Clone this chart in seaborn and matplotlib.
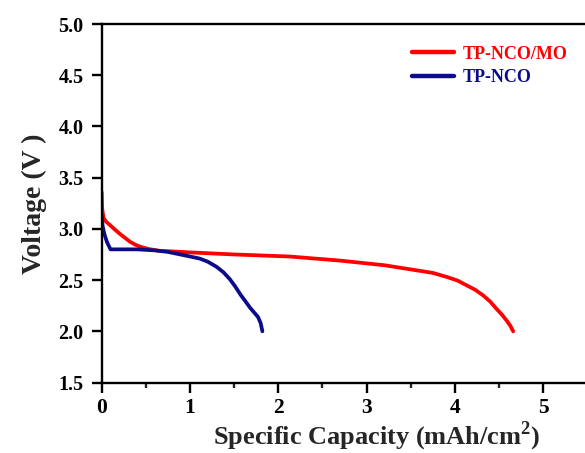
import matplotlib
matplotlib.use("Agg")
import matplotlib.pyplot as plt
import seaborn as sns
import pandas as pd
from matplotlib.ticker import MultipleLocator

sns.set_style("ticks")
plt.rcParams['font.family'] = ['Liberation Serif', 'DejaVu Serif']
plt.rcParams['font.weight'] = 'bold'
plt.rcParams['mathtext.fontset'] = 'custom'
plt.rcParams['mathtext.rm'] = 'Liberation Serif:bold'
plt.rcParams['mathtext.bf'] = 'Liberation Serif:bold'

# TP-NCO/MO discharge curve
cap_mo = [0.0, 0.005, 0.02, 0.05, 0.09, 0.14, 0.2, 0.26, 0.32, 0.38, 0.44, 0.5, 0.55, 0.66, 0.8, 1.0,
          1.5, 2.13, 2.7, 3.2, 3.53, 3.75, 3.91, 4.03, 4.13, 4.23, 4.32, 4.4, 4.47, 4.53, 4.59, 4.63, 4.66]
volt_mo = [3.36, 3.2, 3.11, 3.07, 3.04, 3.0, 2.955, 2.915, 2.875, 2.845, 2.825, 2.81, 2.80, 2.785, 2.78, 2.77,
           2.75, 2.73, 2.69, 2.645, 2.60, 2.57, 2.53, 2.495, 2.45, 2.405, 2.35, 2.29, 2.22, 2.165, 2.10, 2.05, 2.0]

# TP-NCO discharge curve
cap_nco = [0.0, 0.01, 0.03, 0.06, 0.1, 0.2, 0.4, 0.6, 0.75, 0.89, 1.0, 1.11, 1.2, 1.3, 1.38, 1.45,
           1.51, 1.57, 1.63, 1.68, 1.73, 1.77, 1.8, 1.82]
volt_nco = [3.13, 3.03, 2.95, 2.87, 2.80, 2.80, 2.80, 2.79, 2.775, 2.75, 2.73, 2.71, 2.68, 2.63, 2.575, 2.51,
            2.44, 2.36, 2.29, 2.23, 2.18, 2.14, 2.08, 2.0]

series_names = ["TP-NCO/MO", "TP-NCO"]
series_colors = ["#ff0000", "#0c0c8a"]
xticks = [0, 1, 2, 3, 4, 5]
yticks = [1.5, 2.0, 2.5, 3.0, 3.5, 4.0, 4.5, 5.0]

df = pd.concat([
    pd.DataFrame({"cap": cap_mo, "volt": volt_mo, "sample": series_names[0]}),
    pd.DataFrame({"cap": cap_nco, "volt": volt_nco, "sample": series_names[1]}),
])

fig = plt.figure(figsize=(5.85, 4.53), dpi=100)
ax = fig.add_axes([101.7 / 585, (453 - 382.5) / 453, 5.5 * 88.3 / 585, (382.5 - 24) / 453])

sns.lineplot(data=df, x="cap", y="volt", hue="sample", palette=dict(zip(series_names, series_colors)),
             sort=False, estimator=None, linewidth=2.7, ax=ax)
for ln in ax.get_lines():
    ln.set_linewidth(2.7)
    ln.set_solid_capstyle("round")
    ln.set_solid_joinstyle("round")

ax.set_xlim(0, 5.5)
ax.set_ylim(1.5, 5.0)
ax.set_xticks(xticks)
ax.set_xticklabels([str(t) for t in xticks])
ax.set_yticks(yticks)
ax.set_yticklabels([f"{t:.1f}" for t in yticks])
ax.xaxis.set_minor_locator(MultipleLocator(0.5))

for s in ax.spines.values():
    s.set_linewidth(1.7)
    s.set_color("black")
ax.tick_params(which="major", direction="out", length=7, width=1.7, colors="black")
ax.tick_params(which="minor", direction="out", length=3.5, width=1.7)
ax.tick_params(axis="x", which="major", labelsize=15.5, pad=4)
ax.tick_params(axis="y", which="major", labelsize=14.5, pad=6)
for lab in ax.get_xticklabels() + ax.get_yticklabels():
    lab.set_fontweight("bold")

ax.set_xlabel("Specific Capacity (mAh/cm$^{\\mathbf{2}}$)", fontsize=19, fontweight="bold", labelpad=1)
ax.xaxis.label.set_x(0.567)
ax.set_ylabel("Voltage (V )", fontsize=20, fontweight="bold", labelpad=8)

leg = ax.legend(frameon=False, loc="upper right", bbox_to_anchor=(0.985, 0.975), fontsize=13,
                handlelength=2.3, handletextpad=0.5, labelspacing=0.35, borderaxespad=0.3)
for txt, c in zip(leg.get_texts(), series_colors):
    txt.set_color(c)
    txt.set_fontweight("bold")
for h in leg.legend_handles:
    h.set_linewidth(3.2)

fig.savefig("out.png", dpi=100)
